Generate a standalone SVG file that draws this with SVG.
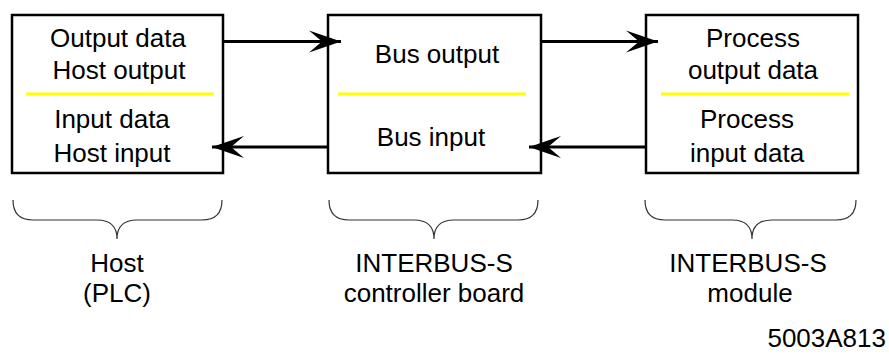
<svg xmlns="http://www.w3.org/2000/svg" width="889" height="354" viewBox="0 0 889 354">
<style>
  .box { fill: #fff; stroke: #000; stroke-width: 2.5; }
  .sep { stroke: #ffff00; stroke-width: 3; }
  .t { font-family: "Liberation Sans", Arial, sans-serif; font-size: 26px; fill: #000; text-anchor: middle; }
  .conn { stroke: #000; stroke-width: 3; fill: none; }
  .brace { stroke: #333; stroke-width: 1.2; fill: none; }
</style>
<defs>
  <marker id="ah" markerUnits="userSpaceOnUse" markerWidth="36" markerHeight="26" viewBox="-34 -13 36 26" refX="0" refY="0" orient="auto">
    <path d="M0,0 L-32,-11 L-19,0 L-32,11 Z" fill="#000"/>
  </marker>
</defs>
<rect width="889" height="354" fill="#fff"/>
<g id="host">
  <rect class="box" x="12" y="15" width="211" height="158"/>
  <line class="sep" x1="26" y1="94" x2="214" y2="94"/>
  <text class="t" x="118" y="47">Output data</text>
  <text class="t" x="119" y="79">Host output</text>
  <text class="t" x="112" y="128">Input data</text>
  <text class="t" x="112" y="162">Host input</text>
</g>
<g id="controller">
  <rect class="box" x="328" y="15" width="213" height="158"/>
  <line class="sep" x1="338" y1="94" x2="526" y2="94"/>
  <text class="t" x="437" y="63">Bus output</text>
  <text class="t" x="431" y="146">Bus input</text>
</g>
<g id="module">
  <rect class="box" x="646" y="15" width="212" height="158"/>
  <line class="sep" x1="661" y1="94" x2="849" y2="94"/>
  <text class="t" x="753" y="47">Process</text>
  <text class="t" x="753" y="79">output data</text>
  <text class="t" x="747" y="128">Process</text>
  <text class="t" x="747" y="162">input data</text>
</g>
<g id="connectors">
  <line class="conn" x1="223" y1="41.5" x2="341" y2="41.5" marker-end="url(#ah)"/>
  <line class="conn" x1="541" y1="41.5" x2="658" y2="41.5" marker-end="url(#ah)"/>
  <line class="conn" x1="328" y1="147" x2="212" y2="147" marker-end="url(#ah)"/>
  <line class="conn" x1="646" y1="147" x2="529" y2="147" marker-end="url(#ah)"/>
</g>
<g id="braces">
  <path class="brace" d="M13,200 Q13,220 33,220 L97,220 Q117,220 117,239 Q117,220 137,220 L202,220 Q222,220 222,200"/>
  <path class="brace" d="M329,200 Q329,220 349,220 L414,220 Q434,220 434,239 Q434,220 454,220 L518,220 Q538,220 538,200"/>
  <path class="brace" d="M645,200 Q645,220 665,220 L732,220 Q752,220 752,239 Q752,220 772,220 L836,220 Q856,220 856,200"/>
</g>
<g id="labels">
  <text class="t" x="117" y="272">Host</text>
  <text class="t" x="117" y="302">(PLC)</text>
  <text class="t" x="434" y="272">INTERBUS-S</text>
  <text class="t" x="434" y="302">controller board</text>
  <text class="t" x="748" y="272">INTERBUS-S</text>
  <text class="t" x="750" y="302">module</text>
  <text class="t" x="886" y="347" style="text-anchor:end">5003A813</text>
</g>
</svg>
